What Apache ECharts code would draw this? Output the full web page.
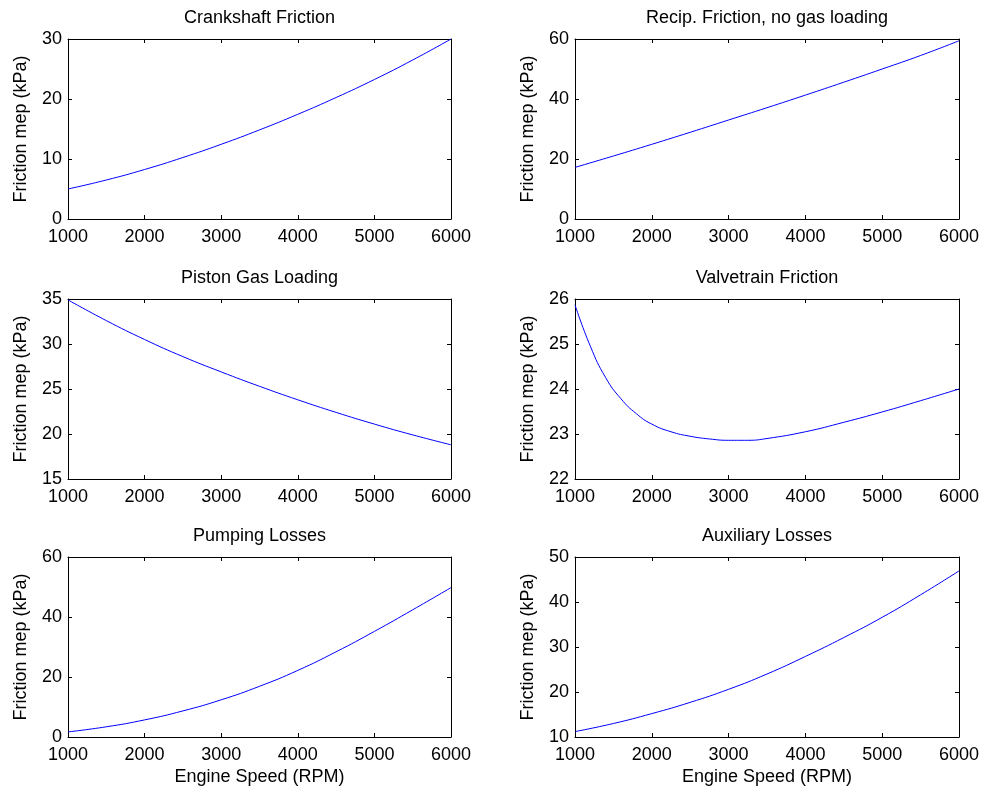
<!DOCTYPE html>
<html>
<head>
<meta charset="utf-8">
<script src="https://cdn.jsdelivr.net/npm/echarts@6/dist/echarts.min.js"></script>
<style>
  html, body { margin: 0; padding: 0; background: #fff; }
  #chart { width: 984px; height: 791px; }
</style>
</head>
<body>
<div id="chart"></div>
<script>
// Engine speed samples (RPM)
const rpm = [1000, 1500, 2000, 2500, 3000, 3500, 4000, 4500, 5000, 5500, 6000];
const rpmValve = [1000, 1200, 1400, 1600, 1800, 2000, 2250, 2500, 2750, 3000, 3250, 3500, 4000, 4500, 5000, 5500, 6000];

// Friction mean effective pressure components (kPa)
const crankshaft = [5.0, 6.5, 8.25, 10.25, 12.45, 14.85, 17.45, 20.25, 23.25, 26.5, 30.0];
const reciprocating = [17.2, 21.0, 24.9, 28.9, 33.0, 37.1, 41.3, 45.6, 50.0, 54.5, 59.4];
const pistonGas = [34.9, 32.6, 30.5, 28.6, 26.9, 25.3, 23.8, 22.4, 21.1, 19.9, 18.8];
const valvetrain = [25.87, 24.95, 24.25, 23.78, 23.45, 23.22, 23.05, 22.95, 22.89, 22.86, 22.86, 22.9, 23.05, 23.26, 23.49, 23.74, 24.0];
const pumping = [1.7, 3.4, 5.7, 8.7, 12.4, 16.9, 22.2, 28.4, 35.2, 42.4, 49.8];
const auxiliary = [11.2, 13.0, 15.2, 17.7, 20.6, 24.0, 27.9, 32.1, 36.6, 41.6, 46.9];

const titles = ['Crankshaft Friction', 'Recip. Friction, no gas loading', 'Piston Gas Loading',
                'Valvetrain Friction', 'Pumping Losses', 'Auxiliary Losses'];
const yMin = [0, 0, 15, 22, 0, 10];
const yMax = [30, 60, 35, 26, 60, 50];
const yStep = [10, 20, 5, 1, 20, 10];
const xTicks = { min: 1000, max: 6000, interval: 1000 };

const panels = [
  { x: rpm, y: crankshaft },
  { x: rpm, y: reciprocating },
  { x: rpm, y: pistonGas },
  { x: rpmValve, y: valvetrain },
  { x: rpm, y: pumping },
  { x: rpm, y: auxiliary }
];

const FONT = '"Liberation Sans", Arial, Helvetica, sans-serif';
const colLeft = [68, 575];
const colWidth = [383, 384];
const rowTop = [39, 299, 557];
const rowHeight = 180;

const grid = [], xAxis = [], yAxis = [], series = [], title = [];

panels.forEach((p, i) => {
  const col = i % 2, row = Math.floor(i / 2);
  grid.push({ left: colLeft[col], top: rowTop[row], width: colWidth[col], height: rowHeight });

  const lineStyle = { color: '#000', width: 1 };
  const tick = { show: true, inside: true, length: 4, lineStyle: { color: '#000' } };
  const label = { color: '#000', fontSize: 18, fontFamily: FONT, formatter: v => String(v) };

  // bottom x axis with labels
  xAxis.push({
    type: 'value', gridIndex: i, position: 'bottom', ...xTicks,
    axisLine: { show: true, onZero: false, lineStyle }, axisTick: tick,
    axisLabel: { ...label, margin: 9 }, splitLine: { show: false },
    name: row === 2 ? 'Engine Speed (RPM)' : '', nameLocation: 'middle', nameGap: 31,
    nameTextStyle: { color: '#000', fontSize: 18, fontFamily: FONT }
  });
  // top x axis (box edge with mirrored ticks)
  xAxis.push({
    type: 'value', gridIndex: i, position: 'top', ...xTicks,
    axisLine: { show: true, onZero: false, lineStyle }, axisTick: tick,
    axisLabel: { show: false }, splitLine: { show: false }
  });
  // left y axis with labels
  yAxis.push({
    type: 'value', gridIndex: i, position: 'left', min: yMin[i], max: yMax[i], interval: yStep[i],
    axisLine: { show: true, onZero: false, lineStyle }, axisTick: tick,
    axisLabel: { ...label, margin: 6 }, splitLine: { show: false },
    name: 'Friction mep (kPa)', nameLocation: 'middle', nameGap: 38,
    nameTextStyle: { color: '#000', fontSize: 18, fontFamily: FONT }
  });
  // right y axis (box edge with mirrored ticks)
  yAxis.push({
    type: 'value', gridIndex: i, position: 'right', min: yMin[i], max: yMax[i], interval: yStep[i],
    axisLine: { show: true, onZero: false, lineStyle }, axisTick: tick,
    axisLabel: { show: false }, splitLine: { show: false }
  });

  series.push({
    type: 'line', xAxisIndex: 2 * i, yAxisIndex: 2 * i,
    data: p.x.map((v, k) => [v, p.y[k]]),
    showSymbol: false, smooth: 0.5, silent: true,
    lineStyle: { color: '#0000ff', width: 1 }
  });

  title.push({
    text: titles[i], padding: 0,
    left: colLeft[col] + colWidth[col] / 2, top: rowTop[row] - 21,
    textAlign: 'center', textVerticalAlign: 'middle',
    textStyle: { color: '#000', fontSize: 18, fontWeight: 'normal', fontFamily: FONT }
  });
});

const chart = echarts.init(document.getElementById('chart'), null, { renderer: 'canvas' });
chart.setOption({ animation: false, backgroundColor: '#fff', title, grid, xAxis, yAxis, series });
</script>
</body>
</html>
